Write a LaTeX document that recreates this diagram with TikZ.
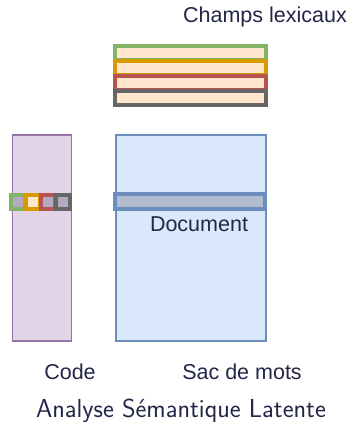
\documentclass[tikz,border=0pt]{standalone}
\usepackage{fontspec}
\usepackage{tikz}
\usetikzlibrary{positioning, calc}
\newfontfamily\helv{Liberation Sans}
\definecolor{txt}{RGB}{35,38,72}
\definecolor{purplefill}{HTML}{E1D5E7}
\definecolor{purpleline}{HTML}{9673A6}
\definecolor{bluefill}{HTML}{DAE8FC}
\definecolor{blueline}{HTML}{6C8EBF}
\definecolor{peach}{HTML}{FFE6CC}
\definecolor{greenline}{HTML}{82B366}
\definecolor{orangeline}{HTML}{D79B00}
\definecolor{redline}{HTML}{B85450}
\definecolor{grayline}{HTML}{666666}
\definecolor{mixfill}{HTML}{B4A9BE}
\definecolor{barfill}{HTML}{B1BDCF}

\begin{document}
\begin{tikzpicture}[x=1pt, y=-1pt,
        column/.style={draw, line width=1.5pt, minimum width=#1, minimum height=206pt, inner sep=0pt},
        champ/.style={draw=#1, fill=peach, line width=4pt, minimum width=151pt, minimum height=14pt, inner sep=0pt},
        cell/.style={draw=#1, fill=mixfill, line width=4pt, minimum size=14pt, inner sep=0pt},
        label/.style={text=txt, font=\helv\fontsize{21.5}{24}\selectfont, inner sep=0pt}]
        \useasboundingbox (0,0) rectangle (351,422);

        \node[column=59.4pt, fill=purplefill, draw=purpleline] (code) at (42,238) {};
        \node[column=150pt, fill=bluefill, draw=blueline] (sac) at (191,238) {};

        \node[champ=greenline] (c1) at (190.5,53) {};
        \node[champ=orangeline] (c2) at (190.5,68) {};
        \node[champ=redline] (c3) at (190.5,83) {};
        \node[champ=grayline] (c4) at (190.5,98) {};

        \node[draw=blueline, fill=barfill, line width=4pt, minimum width=149.4pt, minimum height=15.3pt, inner sep=0pt] (doc) at (190,201.5) {};

        \node[cell=greenline] (k1) at (18,201.5) {};
        \node[cell=orangeline, fill=peach] (k2) at (33,201.5) {};
        \node[cell=redline] (k3) at (48,201.5) {};
        \node[cell=grayline] (k4) at (63,201.5) {};

        \node[label] (champs) at (265,17) {Champs lexicaux};
        \node[label] (doclabel) at (199,224) {Document};
        \node[label] (codelabel) at (70,372) {Code};
        \node[label] (saclabel) at (242,372) {Sac de mots};
        \node[text=txt, font=\sffamily\fontsize{26}{30}\selectfont, inner sep=0pt] (titre) at (181,411) {Analyse Sémantique Latente};
    \end{tikzpicture}
\end{document}
